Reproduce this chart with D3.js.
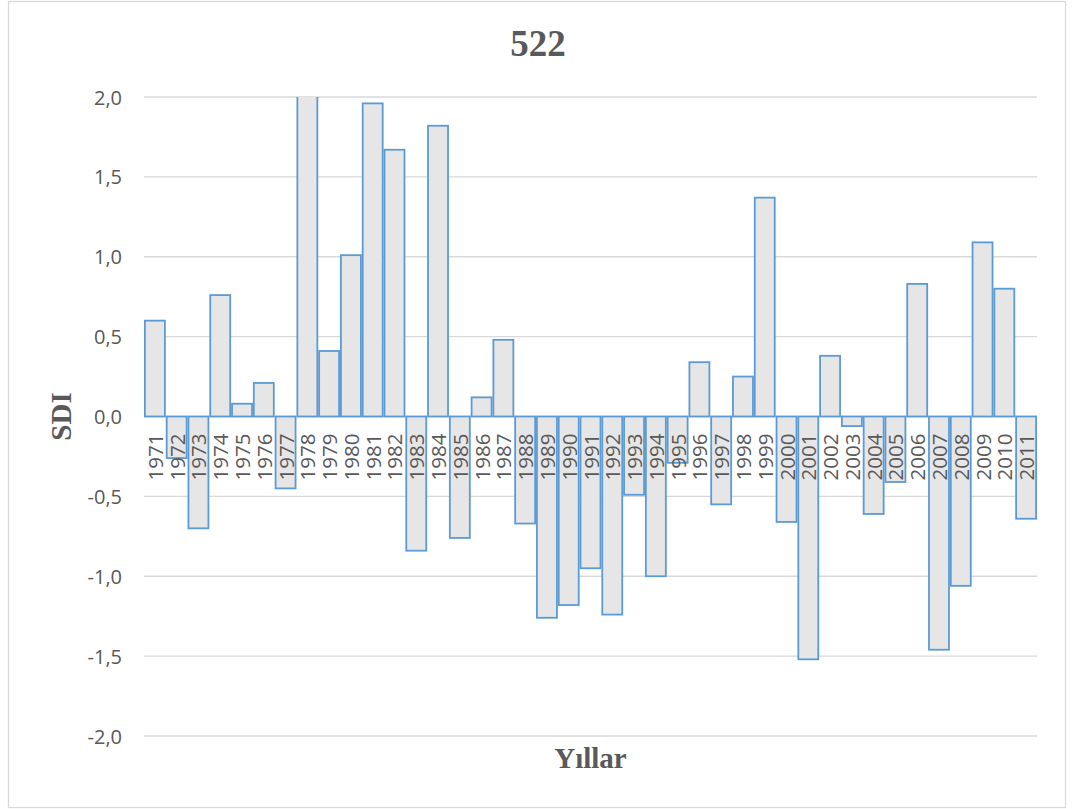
<!DOCTYPE html>
<html>
<head>
<meta charset="utf-8">
<script src="https://cdn.jsdelivr.net/npm/d3@7"></script>
<style>
  html, body { margin: 0; padding: 0; background: #fff; }
  svg { display: block; }
</style>
</head>
<body>
<svg id="chart" width="1073" height="809"></svg>
<script>
// Yearly SDI values for station 522
const years = [
  "1971","1972","1973","1974","1975","1976","1977","1978","1979","1980",
  "1981","1982","1983","1984","1985","1986","1987","1988","1989","1990",
  "1991","1992","1993","1994","1995","1996","1997","1998","1999","2000",
  "2001","2002","2003","2004","2005","2006","2007","2008","2009","2010","2011"
];
const sdi = [
  0.60, -0.26, -0.70, 0.76, 0.08, 0.21, -0.45, 2.30, 0.41, 1.01,
  1.96, 1.67, -0.84, 1.82, -0.76, 0.12, 0.48, -0.67, -1.26, -1.18,
  -0.95, -1.24, -0.49, -1.00, -0.29, 0.34, -0.55, 0.25, 1.37, -0.66,
  -1.52, 0.38, -0.06, -0.61, -0.41, 0.83, -1.46, -1.06, 1.09, 0.80, -0.64
];
const yTicks = [-2.0, -1.5, -1.0, -0.5, 0.0, 0.5, 1.0, 1.5, 2.0];
const chartTitle = "522";
const yTitle = "SDI";
const xTitle = "Yıllar";

const svg = d3.select("#chart");
const plot = { left: 144, right: 1037, top: 97, bottom: 736 };

const x = d3.scaleBand().domain(years).range([plot.left, plot.right]).padding(0);
const y = d3.scaleLinear().domain([-2, 2]).range([plot.bottom, plot.top]);

const fmt = v => d3.format(".1f")(v).replace(".", ",").replace("−", "-");

// outer chart frame
svg.append("rect")
  .attr("x", 8.5).attr("y", 1.5).attr("width", 1057).attr("height", 806)
  .attr("fill", "#fff").attr("stroke", "#D9D9D9").attr("stroke-width", 1.25);

// horizontal gridlines
svg.append("g").selectAll("line").data(yTicks).join("line")
  .attr("x1", plot.left).attr("x2", plot.right)
  .attr("y1", d => y(d)).attr("y2", d => y(d))
  .attr("stroke", "#D9D9D9").attr("stroke-width", 1.3);

// y tick labels
svg.append("g").selectAll("text").data(yTicks).join("text")
  .attr("x", 122).attr("y", d => y(d))
  .attr("text-anchor", "end").attr("dominant-baseline", "central")
  .attr("font-family", "'Open Sans', sans-serif").attr("font-size", 20)
  .attr("fill", "#595959")
  .text(fmt);

// plot-area clip so out-of-range bars are cut at the frame
svg.append("clipPath").attr("id", "plotClip")
  .append("rect")
  .attr("x", plot.left - 2).attr("y", plot.top)
  .attr("width", plot.right - plot.left + 4).attr("height", plot.bottom - plot.top);

const bars = svg.append("g").attr("clip-path", "url(#plotClip)");
bars.selectAll("rect").data(years).join("rect")
  .attr("x", d => x(d) + 0.9)
  .attr("width", x.bandwidth() - 1.8)
  .attr("y", (d, i) => Math.min(y(sdi[i]), y(0)))
  .attr("height", (d, i) => Math.abs(y(sdi[i]) - y(0)))
  .attr("fill", "#E7E6E6")
  .attr("stroke", "#5B9BD5")
  .attr("stroke-width", 1.8);

// year labels just below the zero line
svg.append("g").selectAll("text").data(years).join("text")
  .attr("transform", d => `translate(${x(d) + x.bandwidth() / 2},${y(0) + 17}) rotate(-90)`)
  .attr("text-anchor", "end").attr("dominant-baseline", "central")
  .attr("font-family", "'Open Sans', sans-serif").attr("font-size", 20.5)
  .attr("fill", "#595959")
  .text(d => d);

// titles
svg.append("text")
  .attr("x", 538).attr("y", 56)
  .attr("text-anchor", "middle")
  .attr("font-family", "'Liberation Serif', 'Times New Roman', serif")
  .attr("font-weight", "bold").attr("font-size", 37)
  .attr("fill", "#595959")
  .text(chartTitle);

svg.append("text")
  .attr("transform", `translate(61,416.5) rotate(-90)`)
  .attr("text-anchor", "middle").attr("dominant-baseline", "central")
  .attr("font-family", "'Liberation Serif', 'Times New Roman', serif")
  .attr("font-weight", "bold").attr("font-size", 29)
  .attr("fill", "#595959")
  .text(yTitle);

svg.append("text")
  .attr("x", (plot.left + plot.right) / 2).attr("y", 768)
  .attr("text-anchor", "middle")
  .attr("font-family", "'Liberation Serif', 'Times New Roman', serif")
  .attr("font-weight", "bold").attr("font-size", 29)
  .attr("fill", "#595959")
  .text(xTitle);
</script>
</body>
</html>
